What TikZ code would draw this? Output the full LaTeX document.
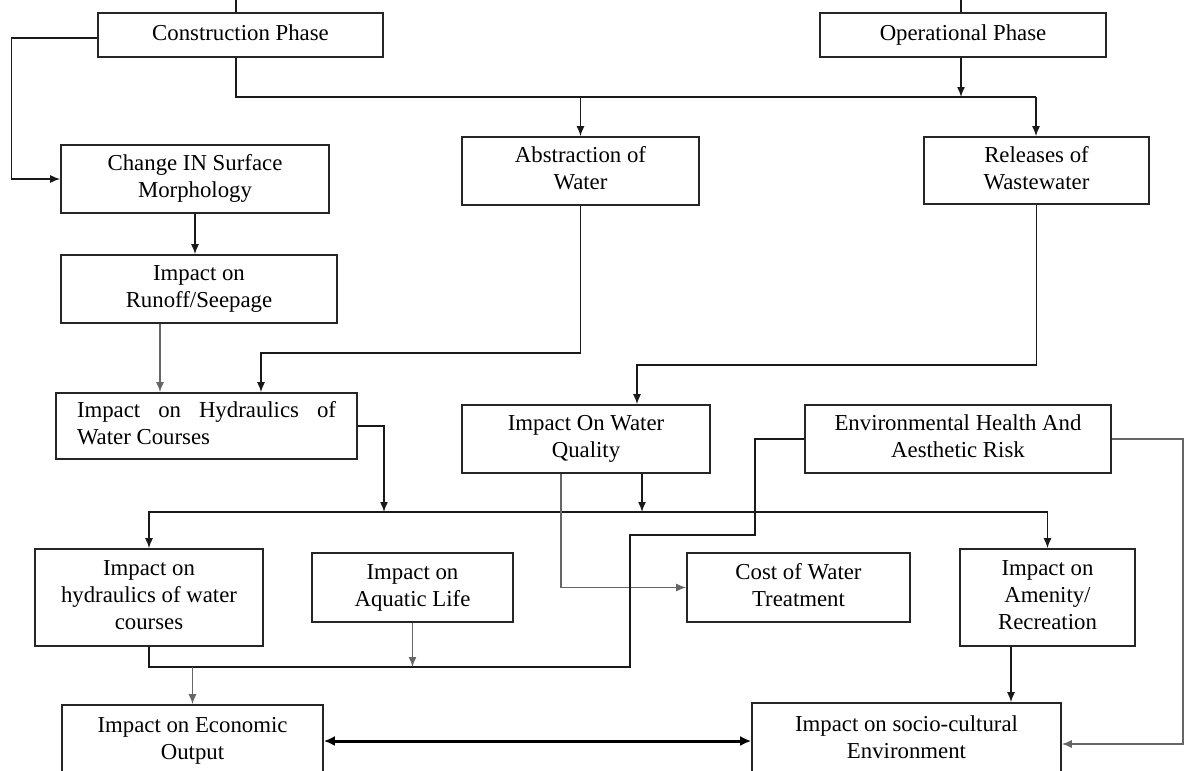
\documentclass[tikz,border=0pt]{standalone}
\usepackage{fontspec}
\setmainfont{Liberation Serif}
\usetikzlibrary{arrows.meta}
\newcommand\bt[1]{\raisebox{4pt}{\begin{tabular}{@{}c@{}}#1\end{tabular}}}
\tikzset{
  box/.style={draw=black!85, line width=1.6pt, inner sep=0pt, rectangle,
    font=\fontsize{22.8}{27}\selectfont},
  conn/.style={draw=black!90, line width=1.5pt},
  tip/.style={-{Latex[length=10pt,width=8pt]}},
  arr/.style={conn, tip},
  garr/.style={draw=black!60, line width=1.5pt, tip},
  dbl/.style={draw=black, line width=3pt, {Latex[length=11pt,width=10pt]}-{Latex[length=11pt,width=10pt]}}
}
\begin{document}
\begin{tikzpicture}[x=1pt,y=-1pt]
\useasboundingbox (0,0) rectangle (1184,771);
\fill[white] (0,0) rectangle (1184,771);
% boxes
\node[box, minimum width=285pt, minimum height=44pt] (cons) at (240.5,35) {\bt{Construction Phase}};
\node[box, minimum width=286pt, minimum height=44pt] (oper) at (963,35) {\bt{Operational Phase}};
\node[box, minimum width=268pt, minimum height=68pt] (chg) at (195,179) {\bt{Change IN Surface\\Morphology}};
\node[box, minimum width=237pt, minimum height=68pt] (abs) at (580.5,171) {\bt{Abstraction of\\Water}};
\node[box, minimum width=225pt, minimum height=67pt] (rel) at (1036.5,170.5) {\bt{Releases of\\Wastewater}};
\node[box, minimum width=276pt, minimum height=68pt] (run) at (199,289) {\bt{Impact on\\Runoff/Seepage}};
\node[box, minimum width=301pt, minimum height=66pt] (hyd) at (206.5,426) {\raisebox{4pt}{\begin{tabular}{@{}p{259pt}@{}}Impact\hfill on\hfill Hydraulics\hfill of\\Water Courses\end{tabular}}};
\node[box, minimum width=248pt, minimum height=68pt] (wq) at (586,439) {\bt{Impact On Water\\Quality}};
\node[box, minimum width=306pt, minimum height=68pt] (env) at (958,439) {\bt{Environmental Health And\\Aesthetic Risk}};
\node[box, minimum width=228pt, minimum height=97pt] (hyd2) at (149,597.5) {\bt{Impact on\\hydraulics of water\\courses}};
\node[box, minimum width=201pt, minimum height=69pt] (aq) at (412.5,587.5) {\bt{Impact on\\Aquatic Life}};
\node[box, minimum width=223pt, minimum height=69pt] (cost) at (798.5,587.5) {\bt{Cost of Water\\Treatment}};
\node[box, minimum width=175pt, minimum height=97pt] (amen) at (1047.5,597.5) {\bt{Impact on\\Amenity/\\Recreation}};
\node[box, minimum width=261pt, minimum height=72pt] (econ) at (192.5,741) {\bt{Impact on Economic\\Output}};
\node[box, minimum width=309pt, minimum height=74pt] (soc) at (906.5,740) {\bt{Impact on socio-cultural\\Environment}};
% helper coordinates
\coordinate (cx) at (236,0);
\coordinate (ox) at (961,0);
\coordinate (lft) at (11.5,0);
\coordinate (j1) at (236,97);
\coordinate (jr) at (1036,97);
\coordinate (hx1) at (160,0);
\coordinate (ab) at (261,353);
\coordinate (rq) at (637,365);
\coordinate (hb) at (384,512);
\coordinate (wqb) at (642,512);
\coordinate (wqc) at (561,0);
\coordinate (e1) at (755,535);
\coordinate (e2) at (630,667);
\coordinate (am) at (1011,0);
\coordinate (er) at (1183,744);
% stubs at top
\draw[conn] (cons.north -| cx) -- (cx);
\draw[conn] (oper.north -| ox) -- (ox);
% construction -> change
\draw[arr] ([yshift=-3pt]cons.west) -| (lft |- chg.west) -- (chg.west);
% construction -> bus -> abstraction / releases
\draw[conn] (cons.south -| cx) -- (j1) -- (jr);
\draw[arr] (oper.south -| ox) -- (ox |- j1);
\draw[arr] (abs.north |- j1) -- (abs.north);
\draw[arr] (jr) -- (jr |- rel.north);
% change -> runoff
\draw[arr] (chg.south) -- (chg.south |- run.north);
% runoff -> hydraulics
\draw[garr] (run.south -| hx1) -- (hx1 |- hyd.north);
% abstraction -> hydraulics
\draw[arr] (abs.south) |- (ab) -- (ab |- hyd.north);
% releases -> water quality
\draw[arr] (rel.south) |- (rq) -- (rq |- wq.north);
% hydraulics -> bus
\draw[arr] (hyd.east) -| (hb);
\draw[conn, {Latex[length=10pt,width=8pt]}-{Latex[length=10pt,width=8pt]}] (hyd2.north) |- (hb) -| (amen.north);
% water quality -> bus, -> cost
\draw[arr] (wq.south -| wqb) -- (wqb);
\draw[garr] (wq.south -| wqc) |- (cost.west);
% environmental health -> economic bus
\draw[conn] (env.west) -| (e1) -| (e2) -| (hyd2.south);
\draw[garr] (aq.south) -- (aq.south |- e2);
\draw[garr] (econ.north |- e2) -- (econ.north);
% economic <-> socio
\draw[dbl] (econ.east) -- (econ.east -| soc.west);
% amenity -> socio
\draw[arr] (amen.south -| am) -- (am |- soc.north);
% environmental health -> socio
\draw[garr] (env.east) -| (er) -- (er -| soc.east);
\end{tikzpicture}
\end{document}
